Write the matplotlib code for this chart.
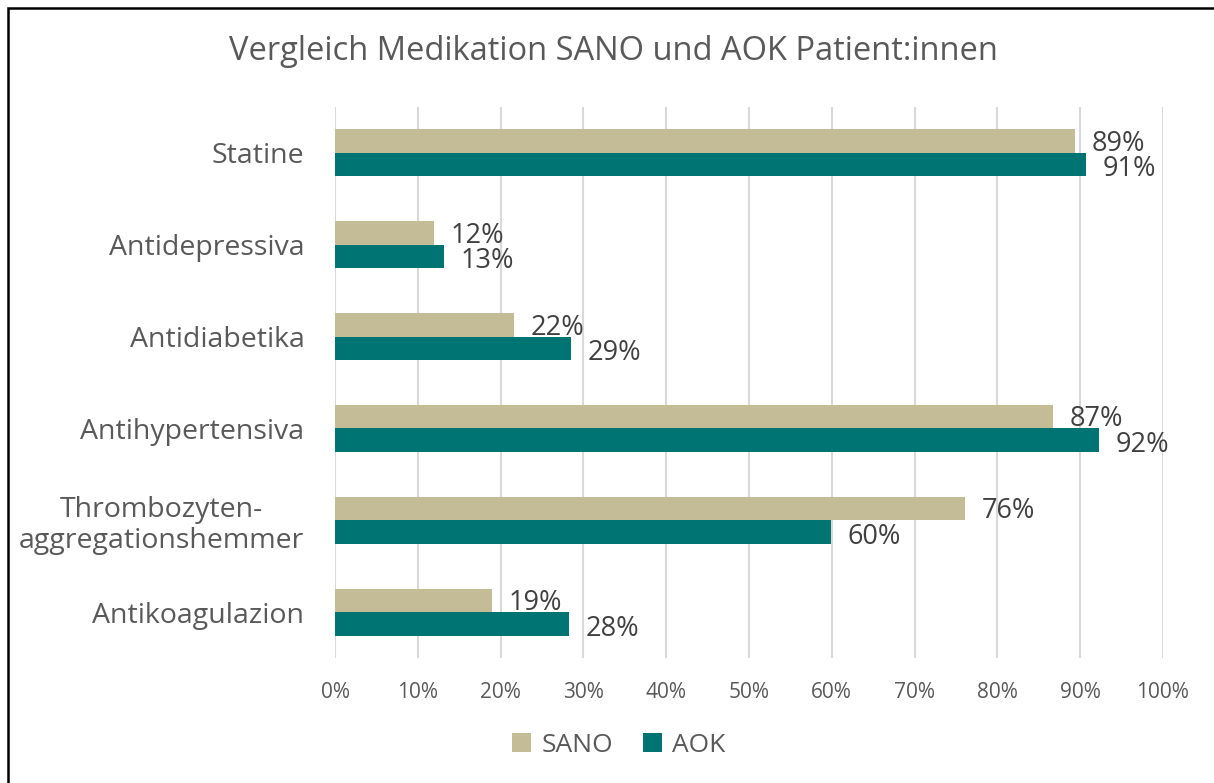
import matplotlib
matplotlib.use("Agg")
import matplotlib.pyplot as plt
from matplotlib.patches import Rectangle
import numpy as np

categories = ["Statine", "Antidepressiva", "Antidiabetika", "Antihypertensiva",
              "Thrombozyten-\naggregationshemmer", "Antikoagulazion"]
sano = [0.894, 0.120, 0.216, 0.867, 0.761, 0.190]
aok = [0.907, 0.132, 0.285, 0.923, 0.599, 0.283]
sano_labels = ["89%", "12%", "22%", "87%", "76%", "19%"]
aok_labels = ["91%", "13%", "29%", "92%", "60%", "28%"]
xticks = [0, 0.1, 0.2, 0.3, 0.4, 0.5, 0.6, 0.7, 0.8, 0.9, 1.0]
xtick_labels = ["0%", "10%", "20%", "30%", "40%", "50%", "60%", "70%", "80%", "90%", "100%"]

C_SANO = "#C4BC96"
C_AOK = "#007472"
TXT = "#595959"
plt.rcParams['font.family'] = ['Open Sans', 'DejaVu Sans']

fig = plt.figure(figsize=(12.14, 7.83), dpi=100)
ax = fig.add_axes([335/1214, 1-658/783, 828/1214, (658-107)/783])

y = np.arange(len(categories))
h = 0.255
ax.barh(y - h/2, sano, height=h, color=C_SANO, label="SANO", zorder=3)
ax.barh(y + h/2, aok, height=h, color=C_AOK, label="AOK", zorder=3)

for i in range(len(categories)):
    ax.annotate(sano_labels[i], (sano[i], y[i] - h/2), xytext=(12, -2), textcoords="offset points",
                va="center", ha="left", fontsize=19.5, color="#404040", zorder=4)
    ax.annotate(aok_labels[i], (aok[i], y[i] + h/2), xytext=(12, -3.5), textcoords="offset points",
                va="center", ha="left", fontsize=19.5, color="#404040", zorder=4)

ax.set_ylim(len(categories) - 0.5, -0.5)
ax.set_xlim(0, 1.0)
ax.set_yticks(y)
ax.set_yticklabels(categories, fontsize=20.5, color=TXT, linespacing=1.15)
for t in ax.get_yticklabels():
    t.set_multialignment('center')
ax.set_xticks(xticks)
ax.set_xticklabels(xtick_labels, fontsize=15, color=TXT)
ax.tick_params(axis='y', length=0, pad=22)
ax.tick_params(axis='x', length=0, pad=17)
ax.grid(axis='x', color="#D9D9D9", linewidth=1.5, zorder=0)
for s in ax.spines.values():
    s.set_visible(False)

fig.text(613/1214, 1-52/783, "Vergleich Medikation SANO und AOK Patient:innen",
         ha="center", va="center", fontsize=23.5, color=TXT)

leg = fig.legend(loc="center", bbox_to_anchor=(619/1214, 1-745/783), ncol=2, frameon=False,
                 fontsize=19, handlelength=0.72, handleheight=0.72, columnspacing=1.1, handletextpad=0.4)
for t in leg.get_texts():
    t.set_color(TXT)

fig.patches.append(Rectangle((8/1214, -0.1), 1.2, 1 - 8/783 + 0.1, transform=fig.transFigure,
                             fill=False, edgecolor="black", linewidth=1.8))

fig.savefig("out.png", dpi=100)
